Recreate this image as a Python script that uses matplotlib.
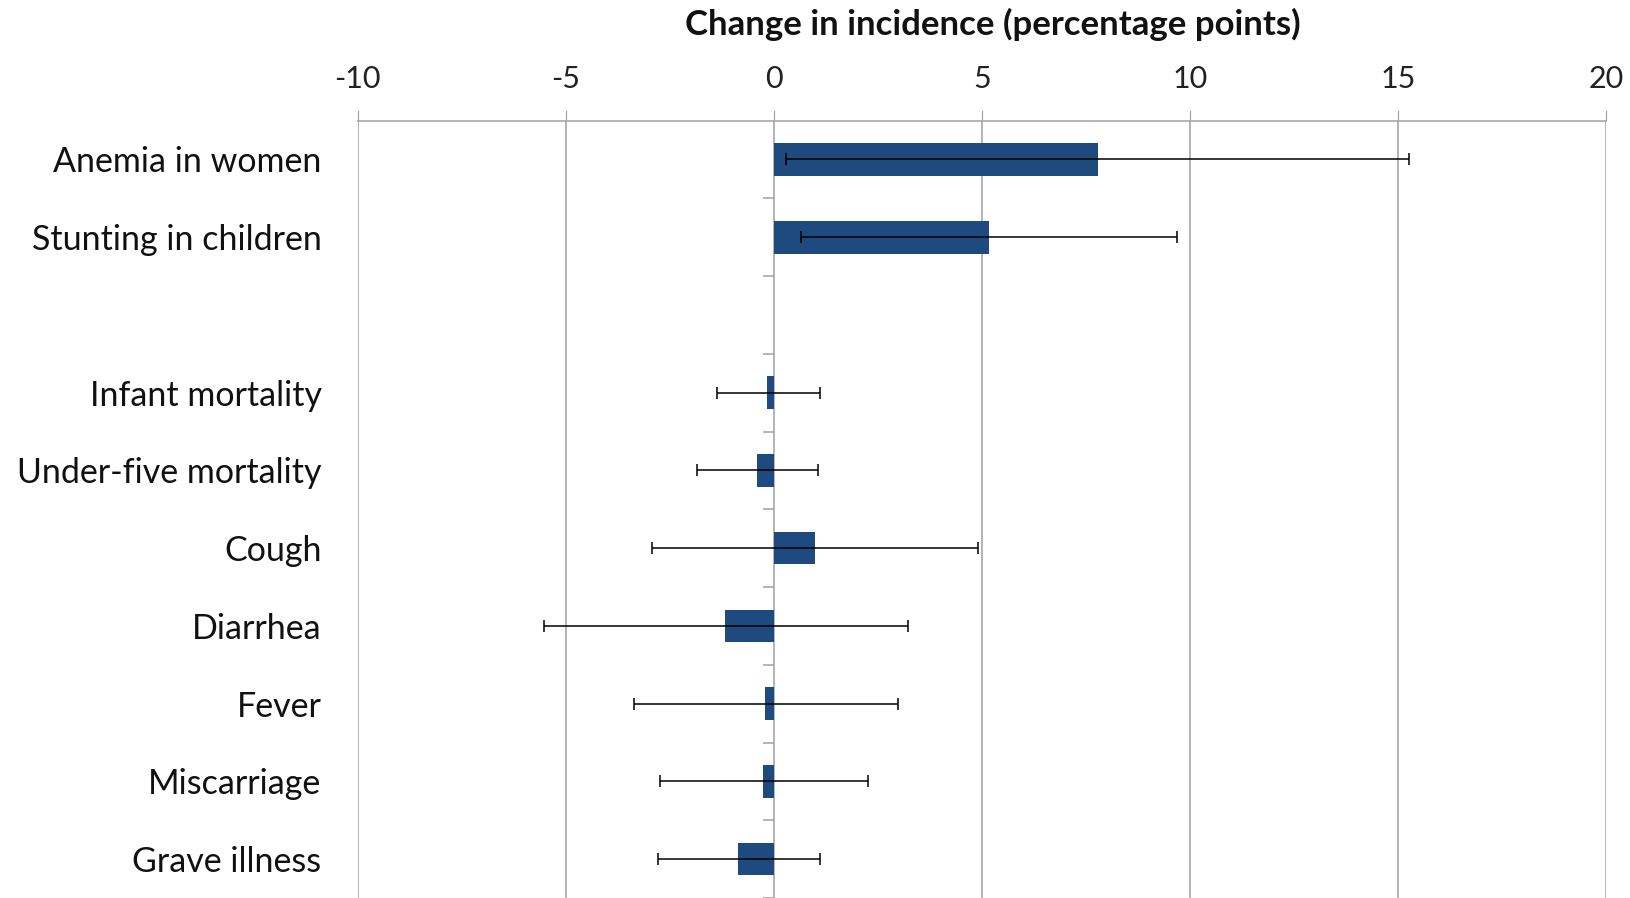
import matplotlib
matplotlib.use('Agg')
import matplotlib.pyplot as plt
import numpy as np

# categories top to bottom, empty string is the gap row
categories = ['Anemia in women', 'Stunting in children', '',
              'Infant mortality', 'Under-five mortality', 'Cough',
              'Diarrhea', 'Fever', 'Miscarriage', 'Grave illness']
values = [7.8, 5.18, np.nan, -0.16, -0.41, 1.0, -1.16, -0.22, -0.26, -0.85]
ci_low = [0.3, 0.65, np.nan, -1.37, -1.85, -2.93, -5.52, -3.36, -2.73, -2.78]
ci_high = [15.27, 9.7, np.nan, 1.12, 1.06, 4.9, 3.22, 2.98, 2.27, 1.11]

plt.rcParams['font.family'] = ['Lato', 'DejaVu Sans']
plt.rcParams['axes.unicode_minus'] = False

fig = plt.figure(figsize=(16.3, 8.98), dpi=100)
ax = fig.add_axes([0.2194, 0.0, 0.9853 - 0.2194, 0.8657])

y = np.arange(len(categories))
vals = np.array(values)
lo = np.array(ci_low)
hi = np.array(ci_high)
xerr = np.vstack([vals - lo, hi - vals])

ax.barh(y, vals, height=0.42, color='#1F4A7F', zorder=3)
ax.errorbar(vals, y, xerr=xerr, fmt='none', ecolor='black', elinewidth=1.1,
            capsize=4.5, capthick=1.1, zorder=4)

ax.set_xlim(-10, 20)
ax.set_ylim(len(categories) - 0.5, -0.5)
ax.set_xticks(np.arange(-10, 21, 5))
ax.xaxis.tick_top()
ax.tick_params(axis='x', length=8, color='#A0A0A0', labelsize=22, pad=12,
               labelcolor='#222222')
ax.set_yticks(y)
ax.set_yticklabels(categories, fontsize=24.5, color='#111111')
ax.tick_params(axis='y', length=0, pad=26)

ax.grid(axis='x', color='#A0A0A0', linewidth=1.1, zorder=0)
for s in ['left', 'right', 'bottom']:
    ax.spines[s].set_visible(False)
ax.spines['top'].set_color('#A0A0A0')
ax.spines['top'].set_linewidth(1.1)

# small ticks on the zero line between categories
bounds = np.arange(0.5, len(categories), 1)
ax.plot(np.zeros_like(bounds), bounds, ls='none', marker=0, ms=8,
        mew=1.1, color='#A0A0A0', zorder=2, clip_on=False)

fig.text(0.609, 0.973, 'Change in incidence (percentage points)', ha='center',
         va='center', fontsize=25, fontweight='bold', color='#111111')

fig.savefig('out.png', dpi=100)
